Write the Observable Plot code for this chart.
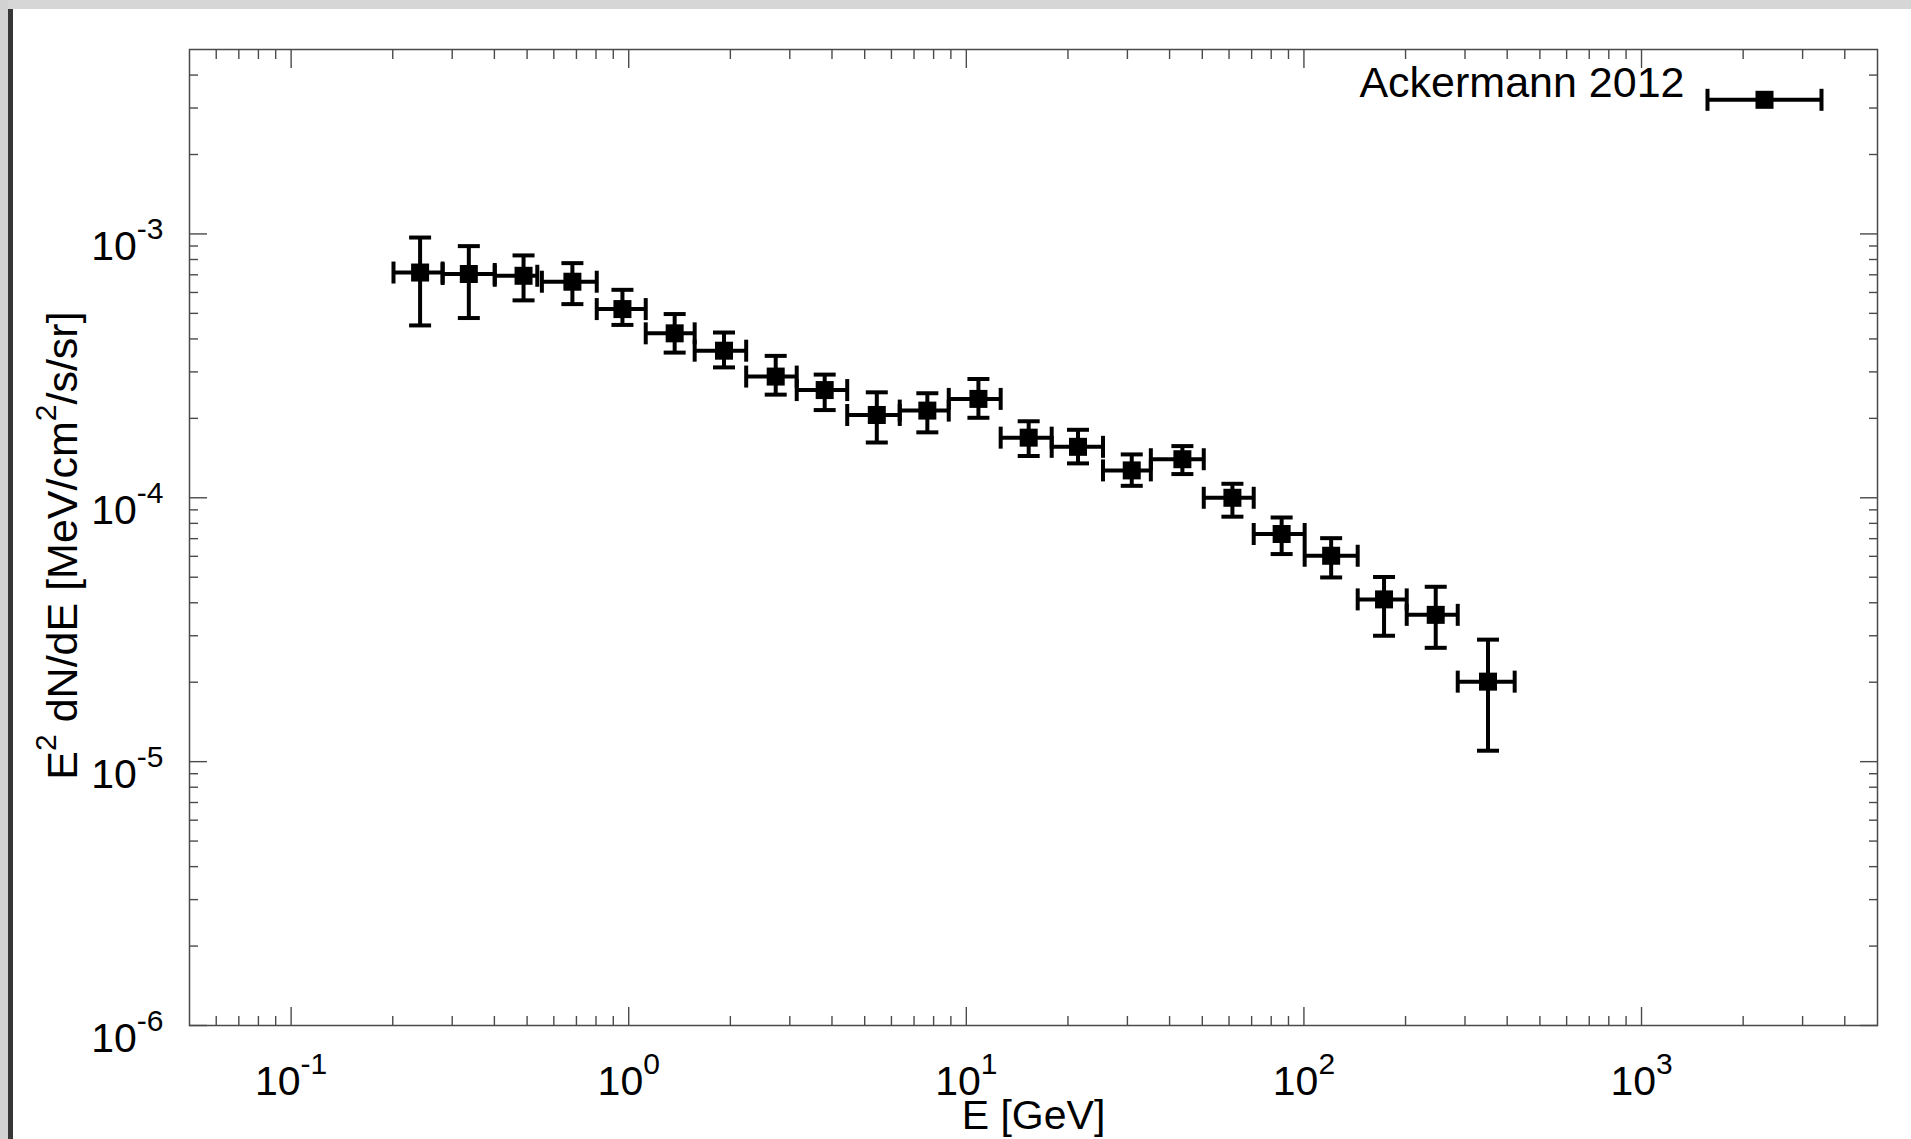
<!DOCTYPE html>
<html><head><meta charset="utf-8">
<script src="https://cdn.jsdelivr.net/npm/d3@7"></script>
<script src="https://cdn.jsdelivr.net/npm/@observablehq/plot@0.6"></script>
<style>
html,body{margin:0;padding:0;background:#fff;width:1911px;height:1139px;overflow:hidden;}
#chart{position:absolute;left:0;top:0;}
#topstrip{position:absolute;left:0;top:0;width:1911px;height:9px;background:#d6d6d6;}
#leftstrip{position:absolute;left:0;top:0;width:8px;height:1139px;background:#d2d2d2;}
#leftbar{position:absolute;left:8px;top:9px;width:4.5px;height:1130px;background:#363636;}
</style></head><body>
<div id="chart"></div>
<div id="topstrip"></div><div id="leftstrip"></div><div id="leftbar"></div>
<script>
// ---- data ----
const energy = [0.241, 0.336, 0.488, 0.681, 0.958, 1.368, 1.915, 2.725, 3.806, 5.43, 7.665, 10.86, 15.30, 21.42, 30.90, 43.65, 61.4, 85.9, 120.4, 172.7, 245.7, 351];
const energyLow = [0.201, 0.281, 0.401, 0.553, 0.804, 1.123, 1.568, 2.228, 3.145, 4.438, 6.35, 8.87, 12.64, 17.90, 25.4, 35.2, 50.5, 71.0, 100.5, 144.3, 201.6, 285.5];
const energyHigh = [0.281, 0.401, 0.536, 0.804, 1.123, 1.568, 2.228, 3.145, 4.438, 6.35, 8.87, 12.64, 17.90, 25.4, 35.2, 50.5, 71.0, 100.5, 144.3, 201.6, 285.5, 421];
const flux = [7.14e-4, 7.05e-4, 6.94e-4, 6.59e-4, 5.19e-4, 4.20e-4, 3.61e-4, 2.88e-4, 2.56e-4, 2.06e-4, 2.14e-4, 2.37e-4, 1.69e-4, 1.56e-4, 1.27e-4, 1.40e-4, 1.00e-4, 7.29e-5, 6.03e-5, 4.12e-5, 3.60e-5, 2.01e-5];
const fluxHigh = [9.69e-4, 8.99e-4, 8.29e-4, 7.75e-4, 6.14e-4, 4.97e-4, 4.23e-4, 3.45e-4, 2.93e-4, 2.51e-4, 2.49e-4, 2.82e-4, 1.95e-4, 1.81e-4, 1.46e-4, 1.57e-4, 1.13e-4, 8.42e-5, 7.03e-5, 5.01e-5, 4.60e-5, 2.90e-5];
const fluxLow = [4.50e-4, 4.80e-4, 5.60e-4, 5.42e-4, 4.52e-4, 3.55e-4, 3.12e-4, 2.46e-4, 2.15e-4, 1.62e-4, 1.77e-4, 2.01e-4, 1.44e-4, 1.35e-4, 1.11e-4, 1.23e-4, 8.48e-5, 6.12e-5, 4.99e-5, 3.00e-5, 2.70e-5, 1.10e-5];

const seriesName = "Ackermann 2012";
const xTitle = "E [GeV]";
const yTitle = "E^{2} dN/dE [MeV/cm^{2}/s/sr]";

const xMajor = [0.1, 1, 10, 100, 1000];
const xExp = ["-1", "0", "1", "2", "3"];
const xMinor = [0.06, 0.07, 0.08, 0.09,
  0.2, 0.3, 0.4, 0.5, 0.6, 0.7, 0.8, 0.9,
  2, 3, 4, 5, 6, 7, 8, 9,
  20, 30, 40, 50, 60, 70, 80, 90,
  200, 300, 400, 500, 600, 700, 800, 900,
  2000, 3000, 4000];
const yMajor = [1e-6, 1e-5, 1e-4, 1e-3];
const yExp = ["-6", "-5", "-4", "-3"];
const yMinor = [2e-6, 3e-6, 4e-6, 5e-6, 6e-6, 7e-6, 8e-6, 9e-6,
  2e-5, 3e-5, 4e-5, 5e-5, 6e-5, 7e-5, 8e-5, 9e-5,
  2e-4, 3e-4, 4e-4, 5e-4, 6e-4, 7e-4, 8e-4, 9e-4,
  2e-3, 3e-3, 4e-3];

// ---- chart ----
const rows = energy.map((e, i) => ({e, lo: energyLow[i], hi: energyHigh[i], f: flux[i], fLo: fluxLow[i], fHi: fluxHigh[i]}));

const axisColor = "#4a4a4a";
const ink = "#000";
const capH = {draw(ctx) { ctx.moveTo(-11, 0); ctx.lineTo(11, 0); }};
const capV = {draw(ctx) { ctx.moveTo(0, -11); ctx.lineTo(0, 11); }};
const legendBar = {draw(ctx) { ctx.moveTo(-57, 0); ctx.lineTo(57, 0); }};
const FS = 41;   // tick labels, x title
const FS2 = 43;  // y title, legend

const tickAxis = (fn, data, anchor, size) => fn(data, {anchor, tickSize: size, fill: "none", label: null, stroke: axisColor, strokeWidth: 1.4});

const chart = Plot.plot({
  width: 1911,
  height: 1139,
  marginLeft: 189,
  marginRight: 34,
  marginTop: 49,
  marginBottom: 114,
  style: {fontFamily: "'Liberation Sans', Arial, Helvetica, sans-serif", background: "transparent", color: "#000"},
  x: {type: "log", domain: [0.05, 5000]},
  y: {type: "log", domain: [1e-6, 5e-3]},
  marks: [
    Plot.frame({stroke: axisColor, strokeWidth: 1.5}),
    tickAxis(Plot.axisX, xMajor, "bottom", -18),
    tickAxis(Plot.axisX, xMinor, "bottom", -9),
    tickAxis(Plot.axisX, xMajor, "top", -18),
    tickAxis(Plot.axisX, xMinor, "top", -9),
    tickAxis(Plot.axisY, yMajor, "left", -18),
    tickAxis(Plot.axisY, yMinor, "left", -9),
    tickAxis(Plot.axisY, yMajor, "right", -18),
    tickAxis(Plot.axisY, yMinor, "right", -9),
    Plot.text(xMajor, {x: d => d, frameAnchor: "bottom", dy: 69, lineAnchor: "bottom", textAnchor: "middle", fontSize: FS, text: (d, i) => `10^{${xExp[i]}}`}),
    Plot.text(yMajor, {y: d => d, frameAnchor: "left", dx: -26, dy: 26.5, lineAnchor: "bottom", textAnchor: "end", fontSize: FS, text: (d, i) => `10^{${yExp[i]}}`}),
    Plot.text([xTitle], {frameAnchor: "bottom", dy: 103, lineAnchor: "bottom", textAnchor: "middle", fontSize: FS, text: d => d}),
    Plot.text([yTitle], {frameAnchor: "left", dx: -113, dy: 8, rotate: -90, lineAnchor: "bottom", textAnchor: "middle", fontSize: FS2, text: d => d}),
    // error bars
    Plot.ruleY(rows, {y: "f", x1: "lo", x2: "hi", stroke: ink, strokeWidth: 4}),
    Plot.ruleX(rows, {x: "e", y1: "fLo", y2: "fHi", stroke: ink, strokeWidth: 4}),
    Plot.dot(rows, {x: "lo", y: "f", symbol: capV, fill: "none", stroke: ink, strokeWidth: 4}),
    Plot.dot(rows, {x: "hi", y: "f", symbol: capV, fill: "none", stroke: ink, strokeWidth: 4}),
    Plot.dot(rows, {x: "e", y: "fLo", symbol: capH, fill: "none", stroke: ink, strokeWidth: 4}),
    Plot.dot(rows, {x: "e", y: "fHi", symbol: capH, fill: "none", stroke: ink, strokeWidth: 4}),
    Plot.dot(rows, {x: "e", y: "f", symbol: "square", r: 10.16, fill: ink, stroke: "none"}),
    // legend
    Plot.text([seriesName], {frameAnchor: "top-right", dx: -193, dy: 47.3, textAnchor: "end", lineAnchor: "bottom", fontSize: FS2, text: d => d}),
    Plot.dot([seriesName], {frameAnchor: "top-right", dx: -113, dy: 50.3, symbol: legendBar, fill: "none", stroke: ink, strokeWidth: 4}),
    Plot.dot([seriesName], {frameAnchor: "top-right", dx: -170, dy: 50.3, symbol: capV, fill: "none", stroke: ink, strokeWidth: 4}),
    Plot.dot([seriesName], {frameAnchor: "top-right", dx: -56, dy: 50.3, symbol: capV, fill: "none", stroke: ink, strokeWidth: 4}),
    Plot.dot([seriesName], {frameAnchor: "top-right", dx: -113, dy: 50.3, symbol: "square", r: 10.16, fill: ink, stroke: "none"})
  ]
});

// turn "^{...}" into raised superscripts
const SUP = 30, RAISE = 21;
chart.querySelectorAll("text").forEach(t => {
  const s = t.textContent;
  if (!s.includes("^{")) return;
  const parts = s.split(/\^\{([^}]*)\}/);
  while (t.firstChild) t.removeChild(t.firstChild);
  const ns = "http://www.w3.org/2000/svg";
  let raised = false;
  parts.forEach((p, k) => {
    if (p === "") { return; }
    const sp = document.createElementNS(ns, "tspan");
    sp.textContent = p;
    if (k % 2 === 1) {
      sp.setAttribute("font-size", SUP);
      sp.setAttribute("dy", -RAISE);
      raised = true;
    } else if (raised) {
      sp.setAttribute("dy", RAISE);
      raised = false;
    }
    t.appendChild(sp);
  });
});

document.getElementById("chart").appendChild(chart);
</script>
</body></html>
